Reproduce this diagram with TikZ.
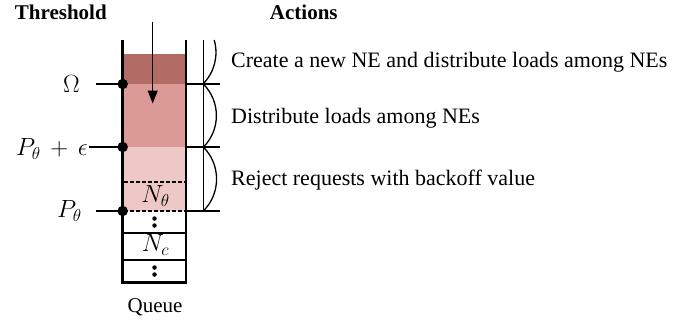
\documentclass[tikz,border=0pt]{standalone}
\usepackage{fontspec}
\setmainfont{Liberation Serif}
\usetikzlibrary{arrows.meta}
\definecolor{darkred}{RGB}{178,108,101}
\definecolor{midred}{RGB}{220,154,150}
\definecolor{lightred}{RGB}{238,200,198}
\begin{document}
\begin{tikzpicture}[x=1pt,y=-1pt,
  wall/.style={line width=2.7pt},
  rowline/.style={line width=2.5pt},
  tickline/.style={line width=1.3pt},
  dashrow/.style={line width=2.3pt, dash pattern=on 3.5pt off 2.5pt},
  bigdot/.style={circle, fill=black, inner sep=0pt, minimum size=10.5pt},
  smalldot/.style={circle, fill=black, inner sep=0pt, minimum size=4.5pt},
  txt/.style={font=\fontsize{22}{26}\selectfont, inner sep=0pt, anchor=base west},
  head/.style={font=\fontsize{21}{25}\selectfont\bfseries, inner sep=0pt, anchor=base},
  mathlbl/.style={font=\fontsize{25}{30}\selectfont, inner sep=0pt, anchor=base east},
  cell/.style={font=\fontsize{23}{27}\selectfont, inner sep=0pt, anchor=base}]
\useasboundingbox (0,0) rectangle (697,322);
% fills
\fill[darkred] (124,54) rectangle (185,84);
\fill[midred] (124,84) rectangle (185,147);
\fill[lightred] (124,147) rectangle (185,211);
% headings
\node[head] (hthr) at (60.8,19) {Threshold};
\node[head] (hact) at (303.8,19) {Actions};
% queue walls
\draw[wall, line join=miter] (122.7,40) -- (122.7,282.5) -- (186,282.5) -- (186,40);
\draw[rowline] (122.7,233) -- (186,233);
\draw[rowline] (122.7,260) -- (186,260);
\draw[dashrow] (124,181.7) -- (186,181.7);
\draw[dashrow] (124,211) -- (186,211);
% vertical ellipses
\node[smalldot] (e1) at (154.5,218.5) {};
\node[smalldot] (e2) at (154.5,225.5) {};
\node[smalldot] (e3) at (154.5,267.5) {};
\node[smalldot] (e4) at (154.5,274.5) {};
% cells labels
\node[cell] (nth) at (155.5,202.7) {$N_\theta$};
\node[cell] (nc) at (155.5,251.7) {$N_c$};
% arrow
\coordinate (arrtop) at (152.7,21.5);
\coordinate (arrtip) at (152.7,103.5);
\draw[line width=1.1pt, -{Triangle[width=10pt,length=13pt]}] (arrtop) -- (arrtip);
% threshold points
\node[bigdot] (tOmega) at (122.7,84) {};
\node[bigdot] (tPe) at (122.7,147) {};
\node[bigdot] (tP) at (122.7,211) {};
\coordinate (lOmega) at (95.7,84);
\coordinate (lPe) at (88.5,147);
\coordinate (lP) at (95.7,211);
\draw[tickline] (lOmega) -- (tOmega.center);
\draw[tickline] (lPe) -- (tPe.center);
\draw[tickline] (lP) -- (tP.center);
\node[mathlbl, anchor=base] (omega) at (71.5,92.7) {$\Omega$};
\node[mathlbl] (pe) at (88,155.5) {$P_\theta \mathbin{\,+\,} \epsilon$};
\node[mathlbl] (p) at (82,217.3) {$P_\theta$};
% right side
\draw[tickline] (203.3,40) -- (203.3,211);
\draw[tickline] (186,84) -- (220,84);
\draw[tickline] (186,147) -- (220,147);
\draw[tickline] (186,211) -- (220,211);
\draw[tickline] (214.2,40) arc[start angle=16.2, end angle=-45, radius=44.7pt];
\draw[tickline] (203.3,84) arc[start angle=45, end angle=-45, radius=44.7pt];
\draw[tickline] (203.3,147) arc[start angle=45, end angle=-45, radius=45.3pt];
% actions
\node[txt] (a1) at (231,67) {Create a new NE and distribute loads among NEs};
\node[txt] (a2) at (231,123.3) {Distribute loads among NEs};
\node[txt] (a3) at (231,185) {Reject requests with backoff value};
% queue label
\node[cell, font=\fontsize{21}{25}\selectfont] (queue) at (155,312) {Queue};
\end{tikzpicture}
\end{document}
